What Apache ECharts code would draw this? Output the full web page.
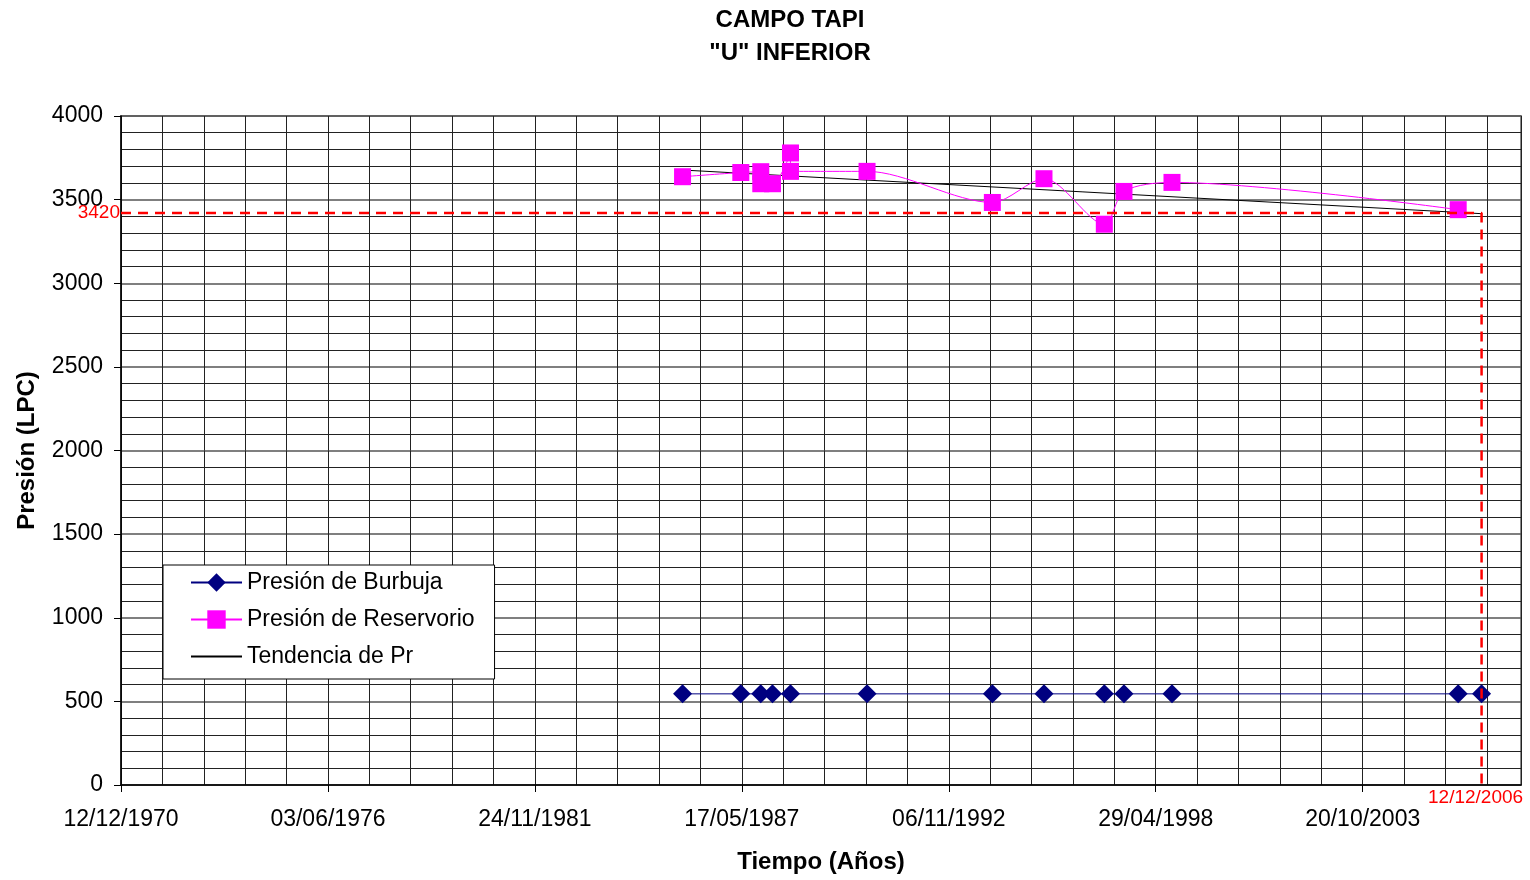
<!DOCTYPE html>
<html>
<head>
<meta charset="utf-8">
<script src="https://cdn.jsdelivr.net/npm/echarts@6/dist/echarts.min.js"></script>
<style>
  html, body { margin: 0; padding: 0; background: #fff; }
  #chart { width: 1530px; height: 880px; }
</style>
</head>
<body>
<div id="chart"></div>
<script>
// Dates are dd/mm/yyyy; the x axis counts days from 12/12/1970.
const reservorioFechas = ['21/10/1985', '07/05/1987', '16/11/1987', '16/11/1987', '08/03/1988',
  '29/08/1988', '29/08/1988', '08/09/1990', '01/01/1994', '15/05/1995', '18/12/1996',
  '26/06/1997', '03/10/1998', '30/04/2006'];
const reservorioPresion = [3637, 3662, 3667, 3595, 3595, 3779, 3669, 3669, 3483, 3625, 3353,
  3549, 3603, 3440];

const burbujaFechas = ['21/10/1985', '07/05/1987', '16/11/1987', '08/03/1988', '29/08/1988',
  '08/09/1990', '01/01/1994', '15/05/1995', '18/12/1996', '26/06/1997', '03/10/1998',
  '30/04/2006', '12/12/2006'];
const burbujaPresion = [545, 545, 545, 545, 545, 545, 545, 545, 545, 545, 545, 545, 545];

const tendenciaFechas = ['21/10/1985', '12/12/2006'];
const tendenciaPresion = [3677, 3416];

const presionActual = 3420;
const fechaActual = '12/12/2006';

const ORIGEN = Date.UTC(1970, 11, 12);
const DIA = 86400000;

function aDias(f) {
  const [d, m, y] = f.split('/').map(Number);
  return Math.round((Date.UTC(y, m - 1, d) - ORIGEN) / DIA);
}
function aFecha(dias) {
  const t = new Date(ORIGEN + dias * DIA);
  const p = n => String(n).padStart(2, '0');
  return p(t.getUTCDate()) + '/' + p(t.getUTCMonth() + 1) + '/' + t.getUTCFullYear();
}
const pares = (fechas, vals) => fechas.map((f, i) => [aDias(f), vals[i]]);

const FONT = 'Liberation Sans, Arial, sans-serif';
const diasActual = aDias(fechaActual);

const chart = echarts.init(document.getElementById('chart'), null, { renderer: 'canvas' });

chart.setOption({
  animation: false,
  backgroundColor: '#fff',
  textStyle: { fontFamily: FONT },
  graphic: [
    { type: 'text', x: 790, y: 20, style: { text: 'CAMPO TAPI', font: 'bold 24px ' + FONT, fill: '#000', align: 'center', verticalAlign: 'middle' } },
    { type: 'text', x: 790, y: 53, style: { text: '"U" INFERIOR', font: 'bold 24px ' + FONT, fill: '#000', align: 'center', verticalAlign: 'middle' } }
  ],
  grid: {
    left: 121, right: 9, top: 116, bottom: 95,
    show: true, borderColor: '#888', borderWidth: 2, backgroundColor: '#fff'
  },
  legend: {
    orient: 'vertical',
    left: 163, top: 565,
    padding: [6, 20, 11, 27],
    itemGap: 14,
    itemWidth: 51, itemHeight: 23,
    backgroundColor: '#fff',
    borderColor: '#000', borderWidth: 1, borderRadius: 0,
    textStyle: { fontSize: 23, color: '#000', fontFamily: FONT },
    data: [
      'Presión de Burbuja',
      'Presión de Reservorio',
      { name: 'Tendencia de Pr', itemStyle: { opacity: 0 } }
    ]
  },
  xAxis: {
    type: 'value',
    min: 0, max: 13530, interval: 2000,
    name: 'Tiempo (Años)',
    nameLocation: 'middle', nameGap: 65,
    nameTextStyle: { fontSize: 24, fontWeight: 'bold', color: '#000', fontFamily: FONT },
    axisLine: { show: true, lineStyle: { color: '#000', width: 1.5 } },
    axisTick: { show: true, length: 7, lineStyle: { color: '#000' } },
    axisLabel: {
      fontSize: 23, color: '#000', margin: 23, showMaxLabel: false,
      formatter: v => (v % 2000 === 0 ? aFecha(v) : '')
    },
    splitLine: { show: true, lineStyle: { color: '#222', width: 1 } },
    minorTick: { show: false, splitNumber: 5 },
    minorSplitLine: { show: true, lineStyle: { color: '#222', width: 1 } }
  },
  yAxis: {
    type: 'value',
    min: 0, max: 4000, interval: 500,
    name: 'Presión (LPC)',
    nameLocation: 'middle', nameGap: 82,
    nameTextStyle: { fontSize: 24, fontWeight: 'bold', color: '#000', fontFamily: FONT },
    axisLine: { show: true, lineStyle: { color: '#000', width: 1.5 } },
    axisTick: { show: true, length: 7, lineStyle: { color: '#000' } },
    axisLabel: { fontSize: 23, color: '#000', margin: 18, formatter: v => String(v) },
    splitLine: { show: true, lineStyle: { color: '#555', width: 1.5 } },
    minorTick: { show: false, splitNumber: 5 },
    minorSplitLine: { show: true, lineStyle: { color: '#222', width: 1 } }
  },
  series: [
    {
      name: 'Presión de Burbuja',
      type: 'line',
      data: pares(burbujaFechas, burbujaPresion),
      symbol: 'diamond', symbolSize: [19, 19],
      itemStyle: { color: '#000080' },
      lineStyle: { color: '#000080', width: 1 },
      z: 3
    },
    {
      name: 'Presión de Reservorio',
      type: 'line',
      data: pares(reservorioFechas, reservorioPresion),
      smooth: 0.3,
      symbol: 'rect', symbolSize: 17,
      itemStyle: { color: '#FF00FF' },
      lineStyle: { color: '#FF00FF', width: 1 },
      z: 4
    },
    {
      name: 'Tendencia de Pr',
      type: 'line',
      data: pares(tendenciaFechas, tendenciaPresion),
      symbol: 'none',
      itemStyle: { color: '#000' },
      lineStyle: { color: '#000', width: 1 },
      z: 3
    },
    {
      name: 'Referencia',
      type: 'line',
      data: [
        { value: [0, presionActual], label: { show: true, position: 'left', distance: 1, formatter: String(presionActual), color: '#FF0000', fontSize: 19 } },
        { value: [diasActual, presionActual] },
        { value: [diasActual, 0], label: { show: true, position: 'bottom', distance: 3, offset: [-6, 0], formatter: fechaActual, color: '#FF0000', fontSize: 19 } }
      ],
      symbol: 'circle', symbolSize: 0, showSymbol: true,
      itemStyle: { color: '#FF0000' },
      lineStyle: { color: '#FF0000', width: 2.5, type: [10, 7] },
      silent: true,
      z: 5
    }
  ]
});
</script>
</body>
</html>
